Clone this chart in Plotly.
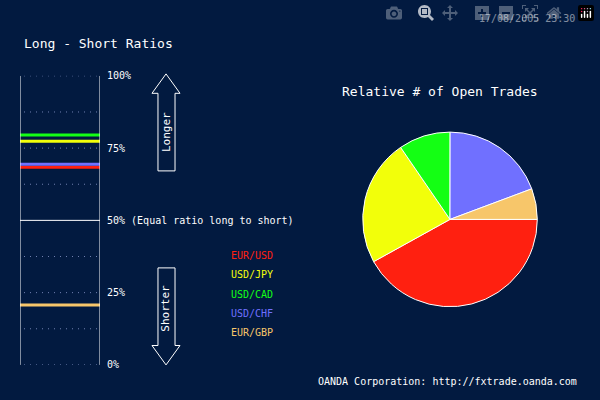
import plotly.graph_objects as go

pairs = ["EUR/USD", "USD/JPY", "USD/CAD", "USD/CHF", "EUR/GBP"]
colors = ["#ff2010", "#f2ff0a", "#14ff14", "#7070ff", "#f7c66a"]
long_pct = [68.4, 77.4, 79.5, 69.4, 20.7]
open_share = [42.0, 23.5, 9.6, 19.3, 5.7]
tick_vals = [0, 25, 50, 75, 100]
tick_text = ["0%", "25%", "50% (Equal ratio long to short)", "75%", "100%"]

BG = "#021a40"
W, H = 600, 400
MONO = "DejaVu Sans Mono"


def px(x, y):
    return x / W, 1 - y / H


def arrow_path(x0, x1, y_tip, y_head, y_end):
    # vertical block arrow, coordinates in pixels
    xm = (x0 + x1) / 2
    s0, s1 = x0 + 6, x1 - 5
    pts = [(xm, y_tip), (x1, y_head), (s1, y_head), (s1, y_end), (s0, y_end), (s0, y_head), (x0, y_head)]
    p = [px(a, b) for a, b in pts]
    return "M " + " L ".join(f"{a:.4f},{b:.4f}" for a, b in p) + " Z"


fig = go.Figure()

# ratio bars
for name, c, v in zip(pairs, colors, long_pct):
    fig.add_trace(go.Scatter(x=[0, 1], y=[v, v], mode="lines", line=dict(color=c, width=3),
                             showlegend=False, hoverinfo="skip", xaxis="x", yaxis="y"))

fig.add_trace(go.Pie(labels=pairs, values=open_share, marker=dict(colors=colors, line=dict(color="white", width=1)),
                     sort=False, direction="clockwise", rotation=90, textinfo="none", showlegend=False,
                     domain=dict(x=[0.6, 0.9], y=[0.225, 0.675])))

shapes = []
for g in [12.5, 37.5, 62.5, 87.5, 25, 75, 100, 0]:
    shapes.append(dict(type="line", xref="x", yref="y", x0=0.05, x1=1, y0=g, y1=g,
                       line=dict(color="#7080b0", width=1, dash="1px,5px"), layer="below"))
shapes.append(dict(type="line", xref="x", yref="y", x0=0, x1=1, y0=50, y1=50, line=dict(color="white", width=1)))
shapes.append(dict(type="line", xref="x", yref="y", x0=0, x1=0, y0=0, y1=100, line=dict(color="white", width=1)))
shapes.append(dict(type="line", xref="x", yref="y", x0=1, x1=1, y0=0, y1=100, line=dict(color="white", width=1)))
shapes.append(dict(type="path", xref="paper", yref="paper", path=arrow_path(152, 180, 70, 90, 170),
                   line=dict(color="white", width=1)))
shapes.append(dict(type="path", xref="paper", yref="paper", path=arrow_path(152, 180, 370, 350, 270),
                   line=dict(color="white", width=1)))

ann = []


def txt(x, y, s, color="white", size=11, anchor="left", angle=0):
    ax, ay = px(x, y)
    ann.append(dict(x=ax, y=ay, xref="paper", yref="paper", text=s, showarrow=False, textangle=angle,
                    xanchor=anchor, yanchor="middle", font=dict(family=MONO, size=size, color=color)))


txt(22, 39, "Long - Short Ratios", size=13)
txt(577, 13, "17/08/2005 23:30", anchor="right", size=10)
txt(440, 88, "Relative # of Open Trades", anchor="center", size=13)
txt(579, 387, "OANDA Corporation: http://fxtrade.oanda.com", anchor="right", size=10)
txt(166, 130, "Longer", anchor="center", angle=-90)
txt(166, 312, "Shorter", anchor="center", angle=-90)
for i, (name, c) in enumerate(zip(pairs, colors)):
    txt(229, 257 + 20 * i, name, color=c, size=10)

fig.update_layout(
    width=W, height=H, margin=dict(l=0, r=0, t=0, b=0),
    paper_bgcolor=BG, plot_bgcolor=BG,
    xaxis=dict(domain=[20 / W, 100 / W], range=[0, 1], visible=False, fixedrange=True),
    yaxis=dict(domain=[30 / H, 328 / H], range=[0, 100], side="right", tickvals=tick_vals, ticktext=tick_text,
               showgrid=False, zeroline=False, ticks="", ticklabelstandoff=6,
               tickfont=dict(family=MONO, size=10, color="white")),
    shapes=shapes, annotations=ann,
)

fig.write_html("out.html", post_script="document.body.style.margin='0';document.body.style.background='" + BG + "';")
